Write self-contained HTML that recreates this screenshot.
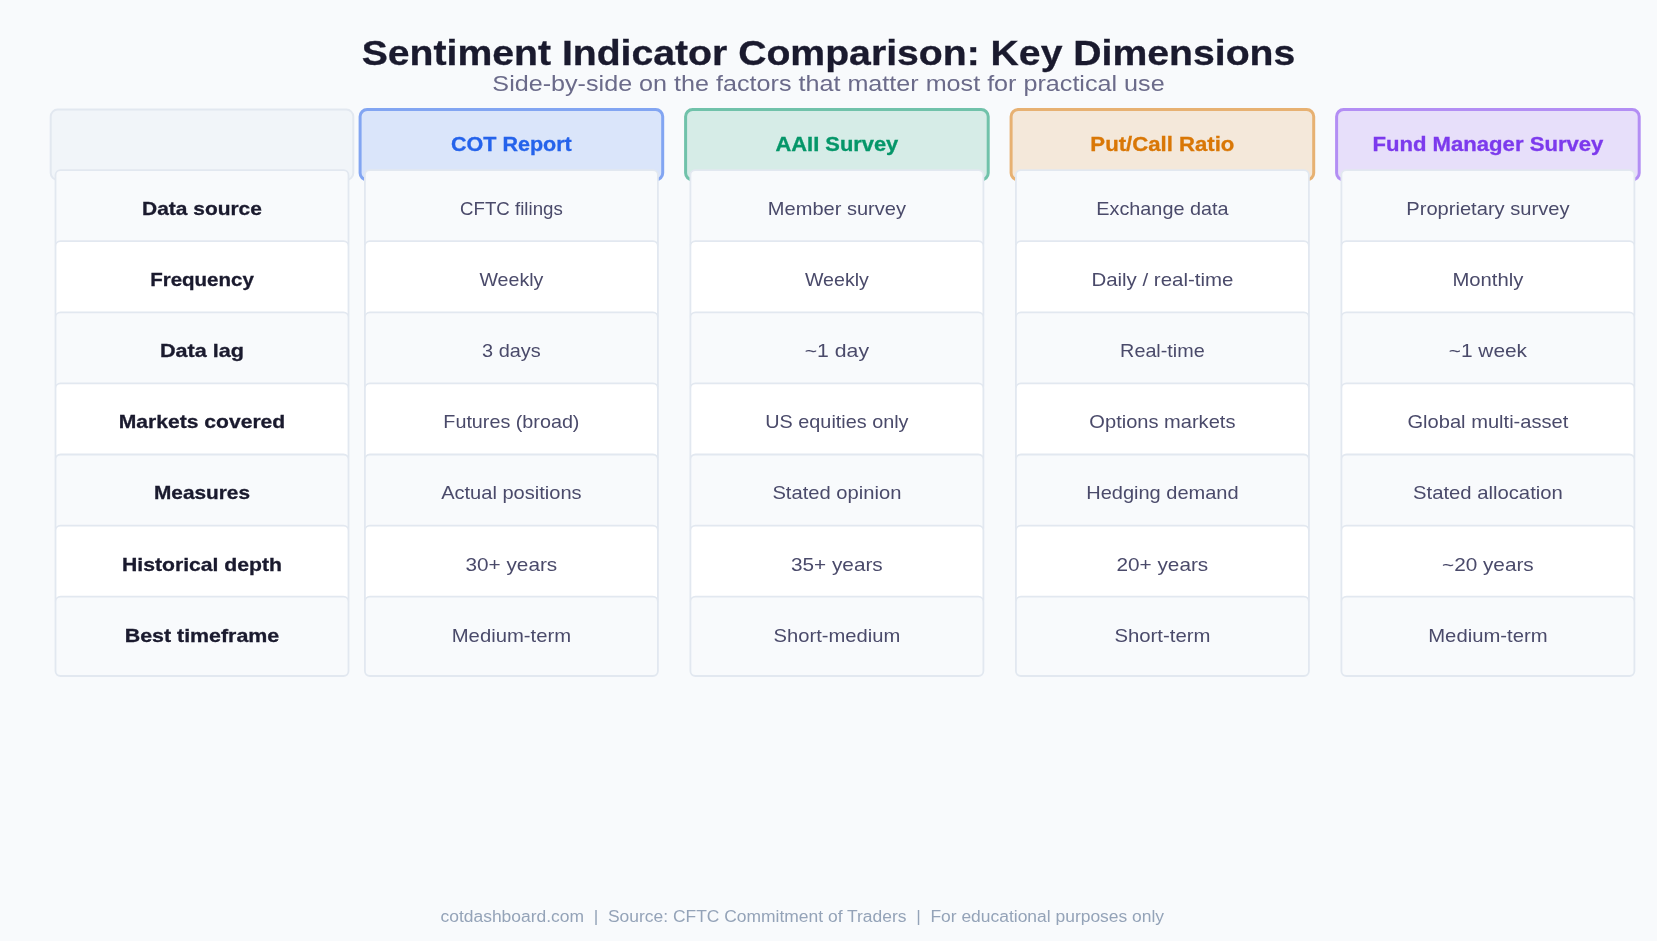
<!DOCTYPE html>
<html><head><meta charset="utf-8"><title>Sentiment Indicator Comparison</title>
<style>
html,body{margin:0;padding:0;background:#f8fafc;width:1657px;height:941px;overflow:hidden}
svg{display:block;will-change:transform}
text{font-family:"Liberation Sans", sans-serif;text-anchor:middle;white-space:pre}
</style></head><body>
<svg width="1657" height="941" viewBox="0 0 1657 941">
<rect x="0" y="0" width="1657" height="941" fill="#f8fafc"/>
<text x="828.50" y="65.00" font-size="35.00" font-weight="bold" fill="#1a1a2e" stroke="#1a1a2e" stroke-width="0.3" textLength="933.61" lengthAdjust="spacingAndGlyphs" >Sentiment Indicator Comparison: Key Dimensions</text>
<text x="828.50" y="91.00" font-size="22.97" font-weight="normal" fill="#6b6b8a" textLength="672.27" lengthAdjust="spacingAndGlyphs" >Side-by-side on the factors that matter most for practical use</text>
<rect x="50.70" y="109.60" width="302.60" height="70.30" rx="7" ry="7" fill="#f1f5f9" stroke="#e2e8f0" stroke-width="2.0"/>
<rect x="360.10" y="109.60" width="302.60" height="70.30" rx="7" ry="7" fill="#dae5fa" stroke="#82a5f2" stroke-width="3.0"/>
<text x="511.40" y="151.10" font-size="19.69" font-weight="bold" fill="#2563eb" stroke="#2563eb" stroke-width="0.3" textLength="120.69" lengthAdjust="spacingAndGlyphs" >COT Report</text>
<rect x="685.60" y="109.60" width="302.60" height="70.30" rx="7" ry="7" fill="#d6ece7" stroke="#70c2aa" stroke-width="3.0"/>
<text x="836.90" y="151.10" font-size="19.69" font-weight="bold" fill="#059669" stroke="#059669" stroke-width="0.3" textLength="122.77" lengthAdjust="spacingAndGlyphs" >AAII Survey</text>
<rect x="1011.10" y="109.60" width="302.60" height="70.30" rx="7" ry="7" fill="#f4e8da" stroke="#e7b172" stroke-width="3.0"/>
<text x="1162.40" y="151.10" font-size="19.69" font-weight="bold" fill="#d97706" stroke="#d97706" stroke-width="0.3" textLength="144.06" lengthAdjust="spacingAndGlyphs" >Put/Call Ratio</text>
<rect x="1336.60" y="109.60" width="302.60" height="70.30" rx="7" ry="7" fill="#e7dffa" stroke="#b38ef4" stroke-width="3.0"/>
<text x="1487.90" y="151.10" font-size="19.69" font-weight="bold" fill="#7c3aed" stroke="#7c3aed" stroke-width="0.3" textLength="231.01" lengthAdjust="spacingAndGlyphs" >Fund Manager Survey</text>
<rect x="55.50" y="170.10" width="293.00" height="79.30" rx="5" ry="5" fill="#f8fafc" stroke="#e2e8f0" stroke-width="1.8"/>
<text x="202.00" y="215.00" font-size="18.60" font-weight="bold" fill="#1a1a2e" stroke="#1a1a2e" stroke-width="0.3" textLength="119.80" lengthAdjust="spacingAndGlyphs" >Data source</text>
<rect x="364.90" y="170.10" width="293.00" height="79.30" rx="5" ry="5" fill="#f8fafc" stroke="#e2e8f0" stroke-width="1.8"/>
<text x="511.40" y="215.00" font-size="18.60" font-weight="normal" fill="#4a4a6a" textLength="102.71" lengthAdjust="spacingAndGlyphs" >CFTC filings</text>
<rect x="690.40" y="170.10" width="293.00" height="79.30" rx="5" ry="5" fill="#f8fafc" stroke="#e2e8f0" stroke-width="1.8"/>
<text x="836.90" y="215.00" font-size="18.60" font-weight="normal" fill="#4a4a6a" textLength="138.07" lengthAdjust="spacingAndGlyphs" >Member survey</text>
<rect x="1015.90" y="170.10" width="293.00" height="79.30" rx="5" ry="5" fill="#f8fafc" stroke="#e2e8f0" stroke-width="1.8"/>
<text x="1162.40" y="215.00" font-size="18.60" font-weight="normal" fill="#4a4a6a" textLength="132.06" lengthAdjust="spacingAndGlyphs" >Exchange data</text>
<rect x="1341.40" y="170.10" width="293.00" height="79.30" rx="5" ry="5" fill="#f8fafc" stroke="#e2e8f0" stroke-width="1.8"/>
<text x="1487.90" y="215.00" font-size="18.60" font-weight="normal" fill="#4a4a6a" textLength="163.22" lengthAdjust="spacingAndGlyphs" >Proprietary survey</text>
<rect x="55.50" y="241.20" width="293.00" height="79.30" rx="5" ry="5" fill="#ffffff" stroke="#e2e8f0" stroke-width="1.8"/>
<text x="202.00" y="286.10" font-size="18.60" font-weight="bold" fill="#1a1a2e" stroke="#1a1a2e" stroke-width="0.3" textLength="103.66" lengthAdjust="spacingAndGlyphs" >Frequency</text>
<rect x="364.90" y="241.20" width="293.00" height="79.30" rx="5" ry="5" fill="#ffffff" stroke="#e2e8f0" stroke-width="1.8"/>
<text x="511.40" y="286.10" font-size="18.60" font-weight="normal" fill="#4a4a6a" textLength="63.92" lengthAdjust="spacingAndGlyphs" >Weekly</text>
<rect x="690.40" y="241.20" width="293.00" height="79.30" rx="5" ry="5" fill="#ffffff" stroke="#e2e8f0" stroke-width="1.8"/>
<text x="836.90" y="286.10" font-size="18.60" font-weight="normal" fill="#4a4a6a" textLength="63.92" lengthAdjust="spacingAndGlyphs" >Weekly</text>
<rect x="1015.90" y="241.20" width="293.00" height="79.30" rx="5" ry="5" fill="#ffffff" stroke="#e2e8f0" stroke-width="1.8"/>
<text x="1162.40" y="286.10" font-size="18.60" font-weight="normal" fill="#4a4a6a" textLength="142.00" lengthAdjust="spacingAndGlyphs" >Daily / real-time</text>
<rect x="1341.40" y="241.20" width="293.00" height="79.30" rx="5" ry="5" fill="#ffffff" stroke="#e2e8f0" stroke-width="1.8"/>
<text x="1487.90" y="286.10" font-size="18.60" font-weight="normal" fill="#4a4a6a" textLength="70.91" lengthAdjust="spacingAndGlyphs" >Monthly</text>
<rect x="55.50" y="312.30" width="293.00" height="79.30" rx="5" ry="5" fill="#f8fafc" stroke="#e2e8f0" stroke-width="1.8"/>
<text x="202.00" y="357.20" font-size="18.60" font-weight="bold" fill="#1a1a2e" stroke="#1a1a2e" stroke-width="0.3" textLength="83.94" lengthAdjust="spacingAndGlyphs" >Data lag</text>
<rect x="364.90" y="312.30" width="293.00" height="79.30" rx="5" ry="5" fill="#f8fafc" stroke="#e2e8f0" stroke-width="1.8"/>
<text x="511.40" y="357.20" font-size="18.60" font-weight="normal" fill="#4a4a6a" textLength="58.70" lengthAdjust="spacingAndGlyphs" >3 days</text>
<rect x="690.40" y="312.30" width="293.00" height="79.30" rx="5" ry="5" fill="#f8fafc" stroke="#e2e8f0" stroke-width="1.8"/>
<text x="836.90" y="357.20" font-size="18.60" font-weight="normal" fill="#4a4a6a" textLength="64.31" lengthAdjust="spacingAndGlyphs" >~1 day</text>
<rect x="1015.90" y="312.30" width="293.00" height="79.30" rx="5" ry="5" fill="#f8fafc" stroke="#e2e8f0" stroke-width="1.8"/>
<text x="1162.40" y="357.20" font-size="18.60" font-weight="normal" fill="#4a4a6a" textLength="84.58" lengthAdjust="spacingAndGlyphs" >Real-time</text>
<rect x="1341.40" y="312.30" width="293.00" height="79.30" rx="5" ry="5" fill="#f8fafc" stroke="#e2e8f0" stroke-width="1.8"/>
<text x="1487.90" y="357.20" font-size="18.60" font-weight="normal" fill="#4a4a6a" textLength="78.27" lengthAdjust="spacingAndGlyphs" >~1 week</text>
<rect x="55.50" y="383.40" width="293.00" height="79.30" rx="5" ry="5" fill="#ffffff" stroke="#e2e8f0" stroke-width="1.8"/>
<text x="202.00" y="428.30" font-size="18.60" font-weight="bold" fill="#1a1a2e" stroke="#1a1a2e" stroke-width="0.3" textLength="166.44" lengthAdjust="spacingAndGlyphs" >Markets covered</text>
<rect x="364.90" y="383.40" width="293.00" height="79.30" rx="5" ry="5" fill="#ffffff" stroke="#e2e8f0" stroke-width="1.8"/>
<text x="511.40" y="428.30" font-size="18.60" font-weight="normal" fill="#4a4a6a" textLength="136.14" lengthAdjust="spacingAndGlyphs" >Futures (broad)</text>
<rect x="690.40" y="383.40" width="293.00" height="79.30" rx="5" ry="5" fill="#ffffff" stroke="#e2e8f0" stroke-width="1.8"/>
<text x="836.90" y="428.30" font-size="18.60" font-weight="normal" fill="#4a4a6a" textLength="143.20" lengthAdjust="spacingAndGlyphs" >US equities only</text>
<rect x="1015.90" y="383.40" width="293.00" height="79.30" rx="5" ry="5" fill="#ffffff" stroke="#e2e8f0" stroke-width="1.8"/>
<text x="1162.40" y="428.30" font-size="18.60" font-weight="normal" fill="#4a4a6a" textLength="146.04" lengthAdjust="spacingAndGlyphs" >Options markets</text>
<rect x="1341.40" y="383.40" width="293.00" height="79.30" rx="5" ry="5" fill="#ffffff" stroke="#e2e8f0" stroke-width="1.8"/>
<text x="1487.90" y="428.30" font-size="18.60" font-weight="normal" fill="#4a4a6a" textLength="160.92" lengthAdjust="spacingAndGlyphs" >Global multi-asset</text>
<rect x="55.50" y="454.50" width="293.00" height="79.30" rx="5" ry="5" fill="#f8fafc" stroke="#e2e8f0" stroke-width="1.8"/>
<text x="202.00" y="499.40" font-size="18.60" font-weight="bold" fill="#1a1a2e" stroke="#1a1a2e" stroke-width="0.3" textLength="96.02" lengthAdjust="spacingAndGlyphs" >Measures</text>
<rect x="364.90" y="454.50" width="293.00" height="79.30" rx="5" ry="5" fill="#f8fafc" stroke="#e2e8f0" stroke-width="1.8"/>
<text x="511.40" y="499.40" font-size="18.60" font-weight="normal" fill="#4a4a6a" textLength="140.49" lengthAdjust="spacingAndGlyphs" >Actual positions</text>
<rect x="690.40" y="454.50" width="293.00" height="79.30" rx="5" ry="5" fill="#f8fafc" stroke="#e2e8f0" stroke-width="1.8"/>
<text x="836.90" y="499.40" font-size="18.60" font-weight="normal" fill="#4a4a6a" textLength="128.95" lengthAdjust="spacingAndGlyphs" >Stated opinion</text>
<rect x="1015.90" y="454.50" width="293.00" height="79.30" rx="5" ry="5" fill="#f8fafc" stroke="#e2e8f0" stroke-width="1.8"/>
<text x="1162.40" y="499.40" font-size="18.60" font-weight="normal" fill="#4a4a6a" textLength="152.42" lengthAdjust="spacingAndGlyphs" >Hedging demand</text>
<rect x="1341.40" y="454.50" width="293.00" height="79.30" rx="5" ry="5" fill="#f8fafc" stroke="#e2e8f0" stroke-width="1.8"/>
<text x="1487.90" y="499.40" font-size="18.60" font-weight="normal" fill="#4a4a6a" textLength="149.79" lengthAdjust="spacingAndGlyphs" >Stated allocation</text>
<rect x="55.50" y="525.60" width="293.00" height="79.30" rx="5" ry="5" fill="#ffffff" stroke="#e2e8f0" stroke-width="1.8"/>
<text x="202.00" y="570.50" font-size="18.60" font-weight="bold" fill="#1a1a2e" stroke="#1a1a2e" stroke-width="0.3" textLength="160.00" lengthAdjust="spacingAndGlyphs" >Historical depth</text>
<rect x="364.90" y="525.60" width="293.00" height="79.30" rx="5" ry="5" fill="#ffffff" stroke="#e2e8f0" stroke-width="1.8"/>
<text x="511.40" y="570.50" font-size="18.60" font-weight="normal" fill="#4a4a6a" textLength="91.74" lengthAdjust="spacingAndGlyphs" >30+ years</text>
<rect x="690.40" y="525.60" width="293.00" height="79.30" rx="5" ry="5" fill="#ffffff" stroke="#e2e8f0" stroke-width="1.8"/>
<text x="836.90" y="570.50" font-size="18.60" font-weight="normal" fill="#4a4a6a" textLength="91.74" lengthAdjust="spacingAndGlyphs" >35+ years</text>
<rect x="1015.90" y="525.60" width="293.00" height="79.30" rx="5" ry="5" fill="#ffffff" stroke="#e2e8f0" stroke-width="1.8"/>
<text x="1162.40" y="570.50" font-size="18.60" font-weight="normal" fill="#4a4a6a" textLength="91.74" lengthAdjust="spacingAndGlyphs" >20+ years</text>
<rect x="1341.40" y="525.60" width="293.00" height="79.30" rx="5" ry="5" fill="#ffffff" stroke="#e2e8f0" stroke-width="1.8"/>
<text x="1487.90" y="570.50" font-size="18.60" font-weight="normal" fill="#4a4a6a" textLength="91.74" lengthAdjust="spacingAndGlyphs" >~20 years</text>
<rect x="55.50" y="596.70" width="293.00" height="79.30" rx="5" ry="5" fill="#f8fafc" stroke="#e2e8f0" stroke-width="1.8"/>
<text x="202.00" y="641.60" font-size="18.60" font-weight="bold" fill="#1a1a2e" stroke="#1a1a2e" stroke-width="0.3" textLength="154.54" lengthAdjust="spacingAndGlyphs" >Best timeframe</text>
<rect x="364.90" y="596.70" width="293.00" height="79.30" rx="5" ry="5" fill="#f8fafc" stroke="#e2e8f0" stroke-width="1.8"/>
<text x="511.40" y="641.60" font-size="18.60" font-weight="normal" fill="#4a4a6a" textLength="119.27" lengthAdjust="spacingAndGlyphs" >Medium-term</text>
<rect x="690.40" y="596.70" width="293.00" height="79.30" rx="5" ry="5" fill="#f8fafc" stroke="#e2e8f0" stroke-width="1.8"/>
<text x="836.90" y="641.60" font-size="18.60" font-weight="normal" fill="#4a4a6a" textLength="126.71" lengthAdjust="spacingAndGlyphs" >Short-medium</text>
<rect x="1015.90" y="596.70" width="293.00" height="79.30" rx="5" ry="5" fill="#f8fafc" stroke="#e2e8f0" stroke-width="1.8"/>
<text x="1162.40" y="641.60" font-size="18.60" font-weight="normal" fill="#4a4a6a" textLength="95.98" lengthAdjust="spacingAndGlyphs" >Short-term</text>
<rect x="1341.40" y="596.70" width="293.00" height="79.30" rx="5" ry="5" fill="#f8fafc" stroke="#e2e8f0" stroke-width="1.8"/>
<text x="1487.90" y="641.60" font-size="18.60" font-weight="normal" fill="#4a4a6a" textLength="119.27" lengthAdjust="spacingAndGlyphs" >Medium-term</text>
<text x="802.30" y="921.80" font-size="16.41" font-weight="normal" fill="#94a3b8" textLength="723.59" lengthAdjust="spacingAndGlyphs" xml:space="preserve">cotdashboard.com  |  Source: CFTC Commitment of Traders  |  For educational purposes only</text>
</svg>
</body></html>
